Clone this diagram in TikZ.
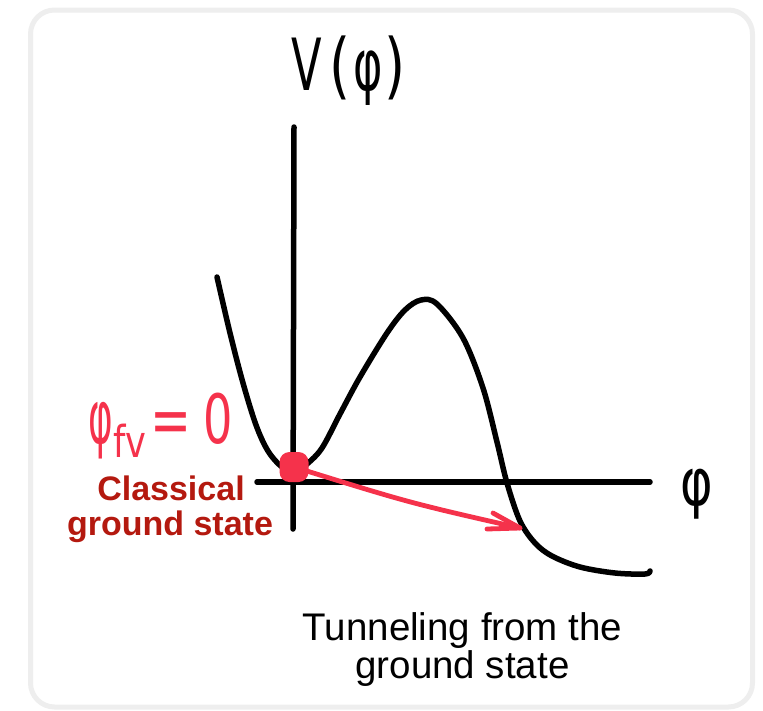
\documentclass[tikz,border=0pt]{standalone}
\usepackage{fontspec}
\usepackage{graphicx}
\setmainfont{Liberation Sans}
\newfontfamily\hand{DejaVu Sans}
\definecolor{hred}{RGB}{245,50,75}
\definecolor{dred}{RGB}{180,25,15}
\definecolor{framegray}{RGB}{238,238,238}
\begin{document}
\begin{tikzpicture}[x=1pt,y=-1pt,line cap=round,line join=round,
  ink/.style={line width=5.5pt,black},
  redink/.style={line width=4.8pt,hred},
  handlbl/.style={inner sep=0pt,anchor=base},
  caption/.style={inner sep=0pt,anchor=base,font=\fontsize{38.5}{40}\selectfont},
  classlbl/.style={inner sep=0pt,anchor=base,text=dred,font=\bfseries\fontsize{34}{36}\selectfont}]
\useasboundingbox (0,0) rectangle (763,710);
% frame
\draw[framegray,line width=5pt,rounded corners=24pt,fill=white] (30.5,10) rectangle (752.5,707);
% axes
\coordinate (ytop) at (294,127);
\coordinate (ybot) at (293,529);
\coordinate (xl) at (257,482);
\coordinate (xr) at (650,482);
\draw[ink] (ytop) -- (ybot);
\draw[ink] (xl) -- (xr);
% potential curve
\draw[ink] plot[smooth,tension=0.55] coordinates {(217,277) (230,333) (243,383) (256,425) (268,451) (282,467) (295,472) (307,464) (322,448) (340,414) (360,377) (387,333) (405,310) (421,300) (437,304) (463,338) (483,388) (497,442) (507,483) (520,521) (535,543) (552,556) (580,567) (615,573) (645,574) (650,571)};
% tunneling arrow
\coordinate (dotc) at (294,467);
\coordinate (tip) at (520,528);
\coordinate (barbA) at (487,529);
\coordinate (barbB) at (493,513);
\draw[redink] (dotc) .. controls (410,503) .. (tip);
\draw[redink] (barbA) -- (tip) -- (barbB);
\node[fill=hred,rounded corners=10pt,minimum width=29pt,minimum height=30pt,inner sep=0pt] (dot) at (dotc) {};
% labels
\node[handlbl] (vphi) at (349,90) {\hand\fontsize{72}{72}\selectfont\scalebox{0.62}[1]{V}\hspace{7pt}\scalebox{0.75}[1]{(}\hspace{3pt}\scalebox{0.62}[1]{φ}\hspace{2pt}\scalebox{0.75}[1]{)}};
\node[handlbl] (phiaxis) at (697,505) {\scalebox{0.75}[1]{\hand\fontsize{66}{66}\selectfont φ}};
\node[handlbl,text=hred] (phifv) at (161,443) {\hand\fontsize{68}{68}\selectfont\scalebox{0.55}[1.1]{φ}\raisebox{-14pt}{\scalebox{0.8}[1]{\fontsize{44}{44}\selectfont fv}}\hspace{4pt}\scalebox{0.72}[1]{=}\hspace{12pt}\scalebox{0.68}[1]{0}};
\node[classlbl] (cl1) at (171,500) {Classical};
\node[classlbl] (cl2) at (170,535) {ground state};
\node[caption] (cap1) at (462.5,640) {Tunneling from the};
\node[caption] (cap2) at (462.5,678) {ground state};
\end{tikzpicture}
\end{document}
